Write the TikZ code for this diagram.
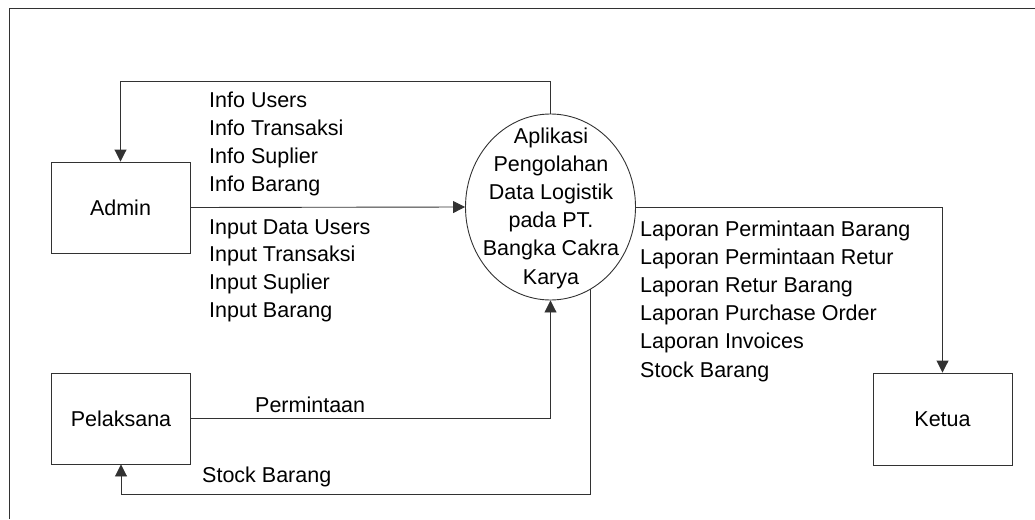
\documentclass[tikz,border=0pt]{standalone}
\usepackage{fontspec}
\setmainfont{Liberation Sans}
\usetikzlibrary{arrows.meta,shapes.geometric}
\definecolor{ln}{RGB}{50,50,50}
\tikzset{
  lbl/.style={inner sep=0pt, font=\fontsize{21.5}{28.2}\selectfont},
  entity/.style={draw=ln, line width=0.9pt, minimum width=139pt, minimum height=91pt, inner sep=0pt, font=\fontsize{21.5}{28.2}\selectfont},
  flow/.style={draw=ln, line width=0.9pt},
  arr/.style={flow, -{Triangle[length=12pt,width=12pt]}},
}
\begin{document}
\begin{tikzpicture}[x=1pt,y=-1pt]
\useasboundingbox (0,0) rectangle (1035,519);
% outer frame
\draw[ln, line width=0.9pt] (9,519) -- (9,8) -- (1035,8);

% external entities
\node[entity] (admin) at (120.5,207.5) {Admin};
\node[entity] (pelaksana) at (121,418.5) {Pelaksana};
\node[entity, minimum height=92pt] (ketua) at (942.5,419) {Ketua};

% process
\node[draw=ln, line width=0.9pt, ellipse, minimum width=170pt, minimum height=186pt, inner sep=0pt] (proc) at (550.5,207) {};
\node[lbl, align=center] (proclbl) at (551,208) {Aplikasi\\Pengolahan\\Data Logistik\\pada PT.\\Bangka Cakra\\Karya};

% routing levels
\coordinate (toplevel) at (0,81);
\coordinate (botlevel) at (0,494);

% flows
\draw[arr] (proc.north) -- (proc.north |- toplevel) -| (admin.north);
\draw[arr] (admin.east) -- (proc.west);
\draw[arr] (proc.east) -| (ketua.north);
\draw[arr] (pelaksana.east) -| (proc.south);
\draw[arr] (proc.-64) -- (proc.-64 |- botlevel) -| (pelaksana.south);

% flow labels
\foreach \t [count=\i] in {Info Users, Info Transaksi, Info Suplier, Info Barang}
  \node[lbl, anchor=base west] (info\i) at (209,{107+28.2*(\i-1)}) {\t};
\foreach \t [count=\i] in {Input Data Users, Input Transaksi, Input Suplier, Input Barang}
  \node[lbl, anchor=base west] (input\i) at (209,{234+27.7*(\i-1)}) {\t};
\foreach \t [count=\i] in {Laporan Permintaan Barang, Laporan Permintaan Retur, Laporan Retur Barang, Laporan Purchase Order, Laporan Invoices, Stock Barang}
  \node[lbl, anchor=base west] (lap\i) at (640,{236+28.2*(\i-1)}) {\t};
\node[lbl, anchor=base west] (perm) at (255,412) {Permintaan};
\node[lbl, anchor=base west] (stock) at (202,482) {Stock Barang};
\end{tikzpicture}
\end{document}
